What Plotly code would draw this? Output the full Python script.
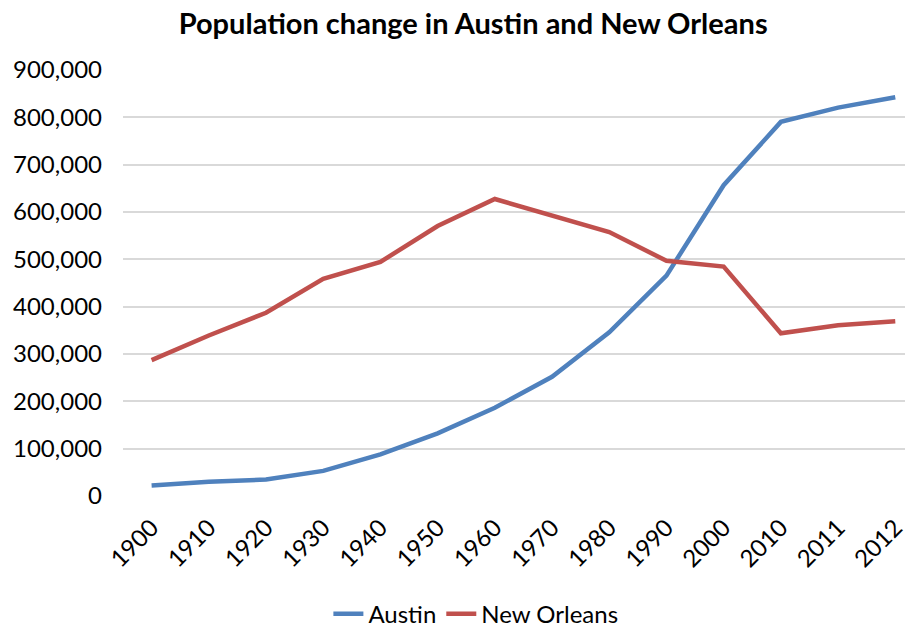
import plotly.graph_objects as go

years = ["1900", "1910", "1920", "1930", "1940", "1950", "1960",
         "1970", "1980", "1990", "2000", "2010", "2011", "2012"]
austin = [22258, 29860, 34876, 53120, 87930, 132459, 186545,
          251808, 345890, 465622, 656562, 790390, 820611, 842592]
new_orleans = [287104, 339075, 387219, 458762, 494537, 570445, 627525,
               593471, 557515, 496938, 484674, 343829, 360740, 369250]

FONT = "Lato"

fig = go.Figure()
fig.add_trace(go.Scatter(x=years, y=austin, mode="lines", name="Austin",
                         line=dict(color="#4F81BD", width=4.5)))
fig.add_trace(go.Scatter(x=years, y=new_orleans, mode="lines", name="New Orleans",
                         line=dict(color="#C0504D", width=4.5)))

# page body has an 8px margin, so the figure is sized 8px smaller
fig.update_layout(
    width=905, height=621,
    paper_bgcolor="white", plot_bgcolor="white",
    margin=dict(l=115, r=0, t=62, b=133, autoexpand=False),
    font=dict(family=FONT, size=24, color="black"),
    title=dict(text="<b>Population change in Austin and New Orleans</b>",
               x=0.514, xanchor="center", y=1.0, yanchor="top",
               pad=dict(t=6),
               font=dict(family=FONT, size=29, color="black")),
    showlegend=True,
    legend=dict(orientation="h", xref="container", yref="container",
                x=0.517, xanchor="center", y=0.024, yanchor="middle",
                font=dict(family=FONT, size=24), traceorder="normal"),
)
fig.update_xaxes(type="category", range=[-0.5, 13.31], tickangle=-45,
                 showgrid=False, showline=False, ticks="", zeroline=False,
                 automargin=False, ticklabelstandoff=12,
                 tickfont=dict(family=FONT, size=24))
fig.update_yaxes(range=[0, 900000], dtick=100000, tickformat=",d",
                 showgrid=True, gridcolor="#D9D9D9", gridwidth=2,
                 zeroline=False, showline=False, ticks="", automargin=False,
                 ticklabelstandoff=20, tickfont=dict(family=FONT, size=24))

fig.write_html("out.html")
